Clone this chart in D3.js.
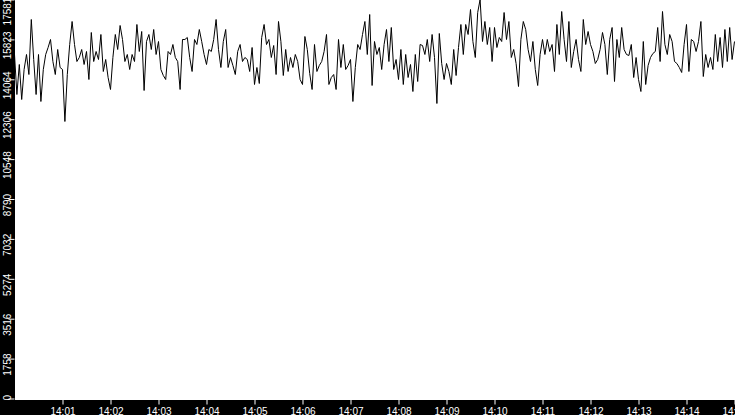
<!DOCTYPE html>
<html>
<head>
<meta charset="utf-8">
<script src="https://cdn.jsdelivr.net/npm/d3@7"></script>
<style>
  body { margin: 0; background: #000; overflow: hidden; }
  svg { display: block; }
</style>
</head>
<body>
<div class="display"></div>
<script>
// samples every 3 seconds from 14:00:00
var startLabel = "14:00";
var endLabel = "14:15";
var stepSeconds = 3;

var xTickLabels = ["14:01", "14:02", "14:03", "14:04", "14:05", "14:06", "14:07", "14:08",
  "14:09", "14:10", "14:11", "14:12", "14:13", "14:14", "14:15"];
var yTickValues = [0, 1758.1, 3516.2, 5274.3, 7032.4, 8790.5, 10548.6, 12306.7, 14064.8, 15822.9, 17581];
var yTickLabels = ["0", "1758", "3516", "5274", "7032", "8790", "10548", "12306", "14064", "15823", "17581"];

var values = [
  15158,13395,14717,13175,14497,15158,14276,16700,14937,13395,15158,13087,14497,15158,15466,15819,14849,14276,15378,14585,14497,12206,14276,15598,16612,
  15598,14849,15026,15378,14717,15290,14056,16127,14849,15290,14937,16039,14409,14937,14144,13616,15026,16039,15378,16436,15819,14849,15158,14497,15158,14849,16480,15290,16171,13571,15730,16039,15378,16259,15158,
  15730,14497,14232,14056,15290,15158,15598,15026,14849,13616,15819,15819,15907,15026,14409,15819,15598,16259,15730,15158,14717,15378,15290,15819,16700,15378,14585,15730,16259,14585,15026,14673,14276,15290,15598,
  14849,15026,14937,14409,15466,13836,14585,13880,15907,16480,15598,15819,15026,15554,14276,16612,15730,14232,15378,14409,15026,14585,15158,14849,14056,13836,15951,15378,14321,13616,15598,14409,14673,14849,
  15290,16039,13836,14144,14276,13616,15819,14585,15598,14497,14673,14937,13087,14585,15598,15378,16039,16612,15158,16920,13792,15730,15158,15466,14497,15598,16259,14849,16347,14497,14937,14056,15378,13836,15158,
  14144,14717,13527,15158,13968,15598,15554,15158,15819,14849,16039,15026,12999,16083,14761,14056,14761,14409,13836,15378,14232,15466,16480,15158,16480,16039,17140,15730,15026,17008,17581,15730,16612,15598,16347,
  14849,16347,15466,15907,15730,17008,15819,16612,15026,15378,14761,13748,15819,16612,16259,15378,14849,15730,14497,13792,15158,15819,15158,15819,15290,15598,14409,16480,15158,17052,15819,14849,16612,14585,
  15290,15819,14937,14409,16700,15598,16171,15598,15290,14761,14937,15378,16127,15598,14276,15819,16347,13968,15819,15026,16347,15378,15158,15114,15598,14144,15026,14056,13527,15730,13836,14673,15026,15202,15290,
  16347,14849,17052,15598,15158,16039,15730,14849,14761,14585,14365,15598,16480,14409,15819,15730,15290,15730,16612,14188,15158,14585,15026,14497,16039,14849,15907,14585,16259,14849,16347,14937,15730
];

var parseTime = d3.timeParse("%H:%M");
var startTime = parseTime(startLabel);
var points = values.map(function(v, i) {
  return { time: d3.timeSecond.offset(startTime, i * stepSeconds), value: v };
});

var width = 735, height = 415;
var plotWidth = 720, plotHeight = 399;

var svg = d3.select(".display")
  .append("svg")
  .attr("width", width)
  .attr("height", height);

svg.append("rect")
  .attr("width", width)
  .attr("height", height)
  .attr("fill", "#000");

svg.append("rect")
  .attr("x", 15)
  .attr("y", 0)
  .attr("width", width - 15)
  .attr("height", 400)
  .attr("fill", "#fff");

var g = svg.append("g").attr("transform", "translate(14.5,-0.5)");

var x = d3.scaleTime()
  .domain([startTime, parseTime(endLabel)])
  .range([0, plotWidth]);

var y = d3.scaleLinear()
  .domain([0, d3.max(yTickValues)])
  .range([plotHeight, 0]);

var line = d3.line()
  .x(function(d) { return x(d.time); })
  .y(function(d) { return y(d.value); });

g.append("path")
  .datum(points)
  .attr("fill", "none")
  .attr("stroke", "#000")
  .attr("stroke-width", 1)
  .attr("d", line);

var xAxis = g.append("g")
  .attr("transform", "translate(0," + plotHeight + ")")
  .attr("color", "#fff")
  .call(d3.axisBottom(x)
    .tickValues(xTickLabels.map(parseTime))
    .tickFormat(function(d, i) { return xTickLabels[i]; }));
xAxis.select(".domain").remove();

var yAxis = g.append("g")
  .attr("color", "#fff")
  .attr("font-size", 10.5)
  .call(d3.axisLeft(y)
    .tickValues(yTickValues)
    .tickFormat(function(d, i) { return yTickLabels[i]; }));
yAxis.select(".domain").remove();

yAxis.selectAll("text")
  .attr("x", null)
  .attr("dy", null)
  .attr("text-anchor", "middle")
  .attr("transform", "translate(-3.5,5.5) rotate(-90)");

// end labels are pushed inside the plot height
yAxis.selectAll(".tick:first-of-type text")
  .attr("text-anchor", "start")
  .attr("transform", "translate(-3.5,1.5) rotate(-90)");

yAxis.selectAll(".tick:last-of-type text")
  .attr("transform", "translate(-3.5,11.5) rotate(-90)");
</script>
</body>
</html>
